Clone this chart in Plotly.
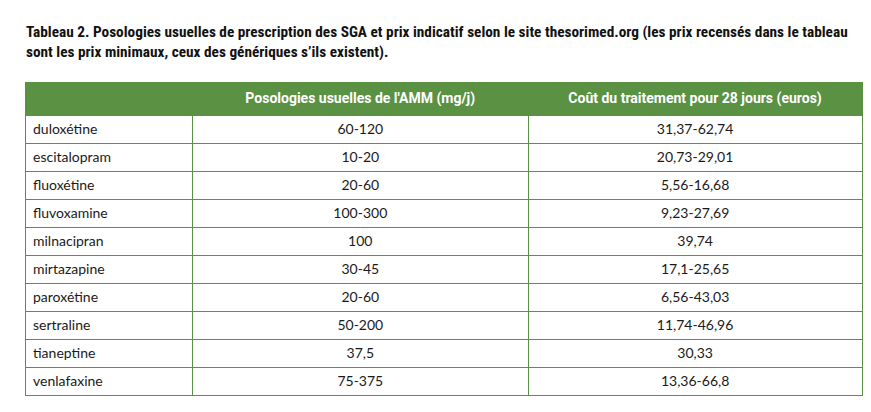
import plotly.graph_objects as go

# Table data
molecules = ['duloxétine', 'escitalopram', 'fluoxétine', 'fluvoxamine', 'milnacipran',
             'mirtazapine', 'paroxétine', 'sertraline', 'tianeptine', 'venlafaxine']
posologies = ['60-120', '10-20', '20-60', '100-300', '100', '30-45', '20-60', '50-200', '37,5', '75-375']
couts = ['31,37-62,74', '20,73-29,01', '5,56-16,68', '9,23-27,69', '39,74', '17,1-25,65',
         '6,56-43,03', '11,74-46,96', '30,33', '13,36-66,8']
headers = ['', "<b>Posologies usuelles de l'AMM (mg/j)</b>", '<b>Coût du traitement pour 28 jours (euros)</b>']

green = '#5a9143'
W, H = 871, 412

fig = go.Figure(go.Table(
    domain=dict(x=[17 / W, 854 / W], y=[0, 1 - 74 / H]),
    columnwidth=[167, 335, 333],
    header=dict(values=headers, fill_color=green, line_color=green,
                font=dict(color='white', size=14, family='Roboto, sans-serif', weight='bold'),
                align='center', height=28),
    cells=dict(values=[molecules, posologies, couts], fill_color='white', line_color=green,
               font=dict(color='#1a1a1a', size=14, family='Lato, Roboto, sans-serif'),
               align=['left', 'center', 'center'], height=28),
))

fig.add_annotation(
    x=16 / W, y=1 - 13 / H, xref='paper', yref='paper', xanchor='left', yanchor='top',
    align='left', showarrow=False,
    text='<b>Tableau 2. Posologies usuelles de prescription des SGA et prix indicatif selon le site thesorimed.org (les prix recensés dans le tableau<br>sont les prix minimaux, ceux des génériques s’ils existent).</b>',
    font=dict(size=15.3, color='#111', family='Liberation Sans Narrow, Roboto Condensed, Arial Narrow, sans-serif'),
)

fig.update_layout(width=W, height=H, margin=dict(l=0, r=0, t=0, b=0),
                  paper_bgcolor='white', plot_bgcolor='white')
fig.write_html('out.html')
